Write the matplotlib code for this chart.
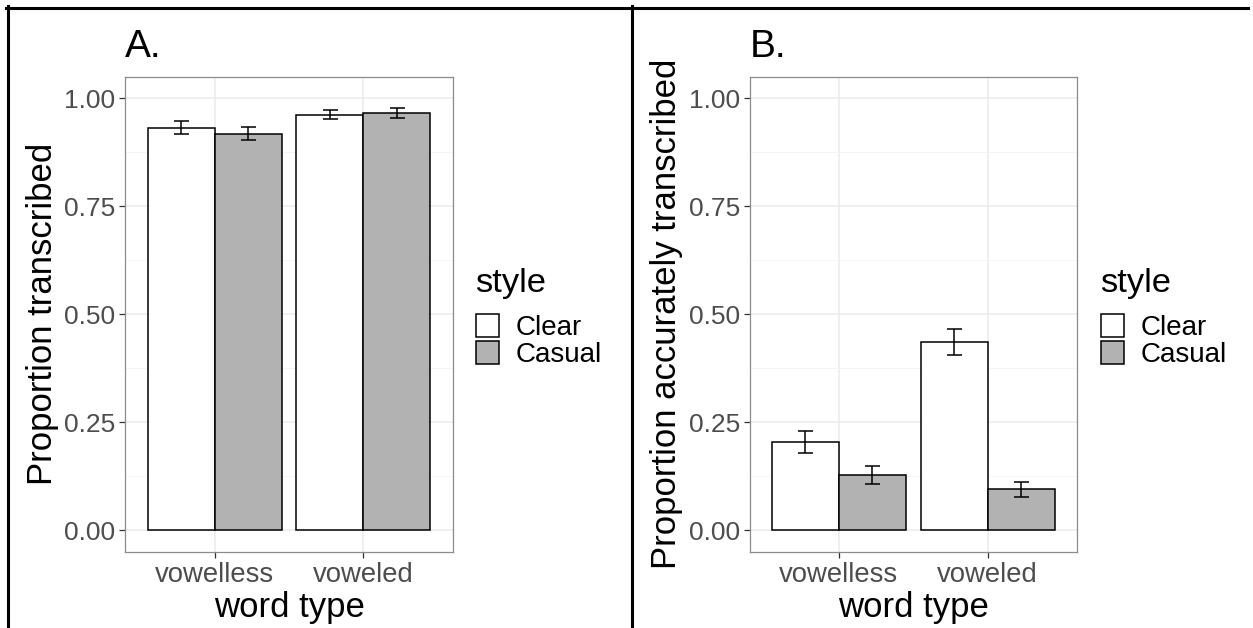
import matplotlib
matplotlib.use("Agg")
import matplotlib.pyplot as plt
from matplotlib.patches import Patch
from matplotlib.lines import Line2D
from matplotlib.ticker import MultipleLocator

plt.rcParams['font.family'] = ['Liberation Sans', 'DejaVu Sans']

# data
word_types = ["vowelless", "voweled"]
styles = ["Clear", "Casual"]
style_colors = ["white", "#b2b2b2"]

transcribed = {"Clear": [0.931, 0.962], "Casual": [0.918, 0.966]}
transcribed_lo = {"Clear": [0.916, 0.951], "Casual": [0.902, 0.955]}
transcribed_hi = {"Clear": [0.946, 0.972], "Casual": [0.934, 0.976]}

accurate = {"Clear": [0.204, 0.436], "Casual": [0.129, 0.095]}
accurate_lo = {"Clear": [0.179, 0.406], "Casual": [0.108, 0.077]}
accurate_hi = {"Clear": [0.229, 0.465], "Casual": [0.150, 0.111]}

W, H = 1253, 628
fig = plt.figure(figsize=(W / 100, H / 100), dpi=100)


def panel(left_px, means, lo, hi, ylabel, tag, leg_x):
    ax = fig.add_axes([left_px / W, (H - 552) / H, 327.4 / W, 475.5 / H])
    x = range(1, len(word_types) + 1)
    bw = 0.45
    for i, s in enumerate(styles):
        xs = [v + (i - 0.5) * bw for v in x]
        err = [[m - l for m, l in zip(means[s], lo[s])],
               [h - m for m, h in zip(means[s], hi[s])]]
        ax.bar(xs, means[s], width=bw, color=style_colors[i],
               edgecolor="black", linewidth=1.1, zorder=3, label=s)
        ax.errorbar(xs, means[s], yerr=err, fmt="none", ecolor="black",
                    elinewidth=1.1, capsize=5.4, capthick=1.1, zorder=4)
    ax.set_xlim(0.4, 2.6)
    ax.set_ylim(-0.05, 1.05)
    ax.set_xticks(list(x))
    ax.set_xticklabels(word_types)
    ax.yaxis.set_major_locator(MultipleLocator(0.25))
    ax.yaxis.set_minor_locator(MultipleLocator(0.125))
    ax.yaxis.set_major_formatter(matplotlib.ticker.FormatStrFormatter("%.2f"))
    ax.grid(which="major", color="#ebebeb", linewidth=1.1, zorder=0)
    ax.grid(which="minor", axis="y", color="#f2f2f2", linewidth=0.6, zorder=0)
    ax.set_axisbelow(True)
    ax.tick_params(axis="both", which="major", length=4, width=0.9,
                   color="#333333", labelcolor="#4d4d4d", labelsize=19, pad=3)
    ax.tick_params(axis="x", which="major", labelsize=19.8)
    ax.tick_params(axis="y", which="minor", length=0)
    for sp in ax.spines.values():
        sp.set_color("#8c8c8c")
        sp.set_linewidth(0.9)
    ax.set_xlabel("word type", fontsize=25, labelpad=2)
    ax.set_ylabel(ylabel, fontsize=25, labelpad=4)
    ax.text(0.0, 1.041, tag, transform=ax.transAxes, fontsize=28,
            ha="left", va="baseline")
    # legend: title placed by hand, keys below it
    ax.text(leg_x, 0.547, "style", transform=ax.transAxes, fontsize=24.8,
            ha="left", va="baseline")
    handles = [Patch(facecolor=c, edgecolor="black", linewidth=1.1)
               for c in style_colors]
    ax.legend(handles, styles, loc="upper left",
              bbox_to_anchor=(leg_x + 0.003, 0.5005), frameon=False,
              fontsize=20, handlelength=0.83, handleheight=0.9,
              labelspacing=0.0, handletextpad=0.61,
              borderaxespad=0, borderpad=0)
    return ax


panel(125.3, transcribed, transcribed_lo, transcribed_hi,
      "Proportion transcribed", "A.", 1.068)
panel(749.6, accurate, accurate_lo, accurate_hi,
      "Proportion accurately transcribed", "B.", 1.070)

# black frame lines around the two panels
lw = 2.2
fig.add_artist(Line2D([6 / W, 1248 / W], [1 - 7.5 / H, 1 - 7.5 / H],
                      transform=fig.transFigure, color="black", linewidth=lw))
fig.add_artist(Line2D([7.5 / W, 7.5 / W], [0, 1 - 6 / H],
                      transform=fig.transFigure, color="black", linewidth=lw))
fig.add_artist(Line2D([632 / W, 632 / W], [0, 1 - 6 / H],
                      transform=fig.transFigure, color="black", linewidth=lw))

fig.savefig("out.png", dpi=100)
